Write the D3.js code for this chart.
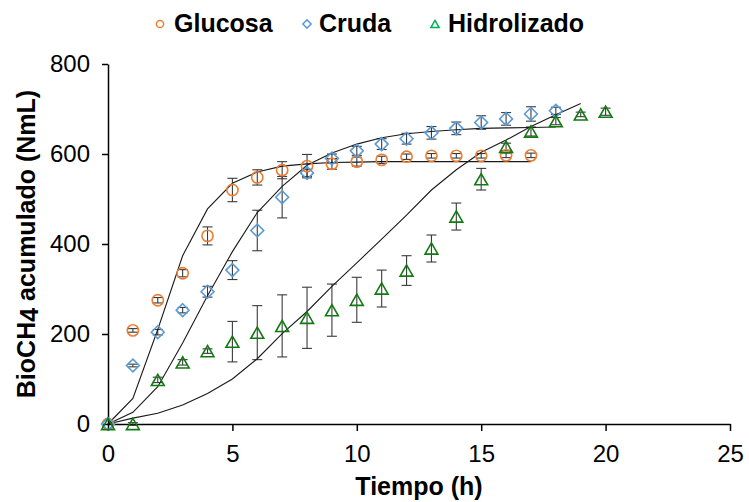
<!DOCTYPE html>
<html>
<head>
<meta charset="utf-8">
<script src="https://cdn.jsdelivr.net/npm/d3@7"></script>
<style>
  html, body { margin: 0; padding: 0; background: #ffffff; }
  svg { display: block; font-family: "Liberation Sans", Arial, sans-serif; }
</style>
</head>
<body>
<div id="chart"></div>
<script>
// Data
const hours = [0, 1, 2, 3, 4, 5, 6, 7, 8, 9, 10, 11, 12, 13, 14, 15, 16, 17, 18, 19, 20];

const glucosaValues = [0, 208, 275, 335, 418, 520, 548, 564, 573, 578, 583, 587, 594, 596, 596, 596, 597, 597];
const glucosaErrors = [0, 4, 6, 8, 20, 26, 17, 19, 26, 12, 10, 8, 6, 5, 5, 5, 5, 5];
const glucosaFit    = [0, 57, 210, 374, 478, 535, 560, 573, 578, 581, 582, 583, 583, 583, 583, 583, 583, 583];

const crudaValues = [0, 130, 204, 253, 294, 342, 430, 504, 558, 590, 607, 622, 634, 647, 657, 670, 678, 689, 696];
const crudaErrors = [0, 3, 6, 6, 12, 21, 45, 46, 8, 10, 10, 12, 12, 14, 14, 15, 14, 16, 8];
const crudaFit    = [0, 26, 83, 180, 285, 383, 470, 528, 575, 602, 622, 636, 645, 650, 654, 657, 658, 659, 660];

const hidroValues = [0, 0, 98, 137, 162, 183, 203, 218, 236, 253, 276, 301, 341, 390, 461, 544, 616, 650, 673, 688, 694];
const hidroErrors = [0, 3, 6, 6, 5, 45, 60, 69, 68, 58, 50, 41, 33, 30, 30, 24, 8, 10, 8, 5, 8];
const hidroFit    = [0, 13, 24, 42, 68, 100, 145, 201, 250, 306, 358, 411, 464, 520, 565, 604, 631, 661, 687, 712];

const seriesNames = ["Glucosa", "Cruda", "Hidrolizado"];
const xTicks = [0, 5, 10, 15, 20, 25];
const yTicks = [0, 200, 400, 600, 800];

// Configuration
const CONFIG = {
    width: 749,
    height: 502,
    plot: { left: 108, right: 730, top: 64, bottom: 424 },
    xDomain: [0, 25],
    yDomain: [0, 800],
    tickFont: 24,
    titleFont: 25,
    legendFont: 25,
    markerSize: 5.6
};

const STYLES = {
    Glucosa:     { shape: "circle",   color: "#ed7d31", legendColor: "#ed7d31", legendX: 160, textX: 174 },
    Cruda:       { shape: "diamond",  color: "#5b9bd5", legendColor: "#5b9bd5", legendX: 307, textX: 319 },
    Hidrolizado: { shape: "triangle", color: "#127a12", legendColor: "#00b050", legendX: 435, textX: 448 }
};

const series = [
    { name: seriesNames[0], values: glucosaValues, errors: glucosaErrors, fit: glucosaFit },
    { name: seriesNames[1], values: crudaValues,   errors: crudaErrors,   fit: crudaFit },
    { name: seriesNames[2], values: hidroValues,   errors: hidroErrors,   fit: hidroFit }
];

const svg = d3.select("#chart")
    .append("svg")
    .attr("width", CONFIG.width)
    .attr("height", CONFIG.height);

const xScale = d3.scaleLinear()
    .domain(CONFIG.xDomain)
    .range([CONFIG.plot.left, CONFIG.plot.right]);

const yScale = d3.scaleLinear()
    .domain(CONFIG.yDomain)
    .range([CONFIG.plot.bottom, CONFIG.plot.top]);

// Marker path for a shape, centred on 0,0
function markerPath(shape, size) {
    if (shape === "circle") {
        return `M${size},0A${size},${size} 0 1,1 ${-size},0A${size},${size} 0 1,1 ${size},0Z`;
    }
    if (shape === "diamond") {
        const s = size * 1.15;
        return `M0,${-s}L${s},0L0,${s}L${-s},0Z`;
    }
    // triangle
    const w = size * 1.15, h = size;
    return `M0,${-h}L${w},${h}L${-w},${h}Z`;
}

// Axes
function renderAxes() {
    const xAxis = svg.append("g")
        .attr("transform", `translate(0,${CONFIG.plot.bottom})`)
        .call(d3.axisBottom(xScale).tickValues(xTicks).tickSize(7).tickSizeOuter(0).tickPadding(14));

    const yAxis = svg.append("g")
        .attr("transform", `translate(${CONFIG.plot.left},0)`)
        .call(d3.axisLeft(yScale).tickValues(yTicks).tickSize(6).tickSizeOuter(0).tickPadding(12));

    [xAxis, yAxis].forEach(axis => {
        axis.select(".domain").attr("stroke", "#000").attr("stroke-width", 1.5);
        axis.selectAll(".tick line").attr("stroke", "#000").attr("stroke-width", 1.5);
        axis.selectAll(".tick text")
            .attr("fill", "#000")
            .style("font-family", "'Liberation Sans', Arial, sans-serif")
            .style("font-size", CONFIG.tickFont + "px");
    });

    // Axis titles
    svg.append("text")
        .attr("x", (CONFIG.plot.left + CONFIG.plot.right) / 2)
        .attr("y", 495)
        .attr("text-anchor", "middle")
        .attr("font-size", CONFIG.titleFont)
        .attr("font-weight", "bold")
        .text("Tiempo (h)");

    const yTitle = svg.append("text")
        .attr("transform", `translate(35,${(CONFIG.plot.top + CONFIG.plot.bottom) / 2}) rotate(-90)`)
        .attr("text-anchor", "middle")
        .attr("font-size", CONFIG.titleFont)
        .attr("font-weight", "bold");
    yTitle.append("tspan").text("BioCH");
    yTitle.append("tspan").attr("dy", 3).text("4");
    yTitle.append("tspan").attr("dy", -3).text(" acumulado (NmL)");
}

// Error bars
function renderErrorBars() {
    const capHalf = 5;
    series.forEach(s => {
        const g = svg.append("g").attr("class", "errors");
        s.values.forEach((v, i) => {
            const e = s.errors[i];
            if (!e) return;
            const x = xScale(hours[i]);
            const y0 = yScale(v - e), y1 = yScale(v + e);
            g.append("line").attr("x1", x).attr("x2", x).attr("y1", y0).attr("y2", y1);
            g.append("line").attr("x1", x - capHalf).attr("x2", x + capHalf).attr("y1", y0).attr("y2", y0);
            g.append("line").attr("x1", x - capHalf).attr("x2", x + capHalf).attr("y1", y1).attr("y2", y1);
        });
        g.selectAll("line").attr("stroke", "#3a3a3a").attr("stroke-width", 1.1);
    });
}

// Fitted curves
function renderFits() {
    const line = d3.line()
        .x((d, i) => xScale(hours[i]))
        .y(d => yScale(d));
    series.forEach(s => {
        svg.append("path")
            .datum(s.fit)
            .attr("d", line)
            .attr("fill", "none")
            .attr("stroke", "#1a1a1a")
            .attr("stroke-width", 1.1);
    });
}

// Markers
function renderMarkers() {
    series.forEach(s => {
        const st = STYLES[s.name];
        svg.append("g")
            .selectAll("path")
            .data(s.values)
            .enter()
            .append("path")
            .attr("transform", (d, i) => `translate(${xScale(hours[i])},${yScale(d)})`)
            .attr("d", markerPath(st.shape, CONFIG.markerSize))
            .attr("fill", "none")
            .attr("stroke", st.color)
            .attr("stroke-width", 1.6);
    });
}

// Legend
function renderLegend() {
    const legendY = 24;
    seriesNames.forEach(name => {
        const st = STYLES[name];
        svg.append("path")
            .attr("transform", `translate(${st.legendX},${legendY})`)
            .attr("d", markerPath(st.shape, 3.6))
            .attr("fill", "none")
            .attr("stroke", st.legendColor)
            .attr("stroke-width", 1.5);
        svg.append("text")
            .attr("x", st.textX)
            .attr("y", 32)
            .attr("font-size", CONFIG.legendFont)
            .attr("font-weight", "bold")
            .text(name);
    });
}

renderAxes();
renderErrorBars();
renderFits();
renderMarkers();
renderLegend();
</script>
</body>
</html>
